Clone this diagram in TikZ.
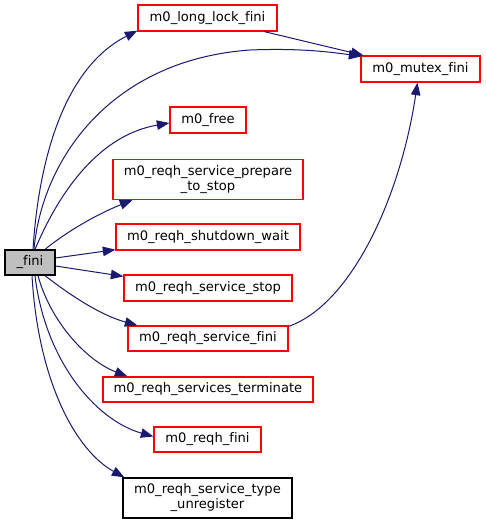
\documentclass[tikz,border=0pt]{standalone}
\usepackage{fontspec}
\setmainfont{DejaVu Sans}[Ligatures=NoCommon]
\usetikzlibrary{arrows.meta,calc}
\definecolor{edgeblue}{RGB}{25,25,112}
\definecolor{nodegray}{RGB}{191,191,191}
\begin{document}
\begin{tikzpicture}[x=1pt,y=-1pt,
  fn/.style={draw=red,line width=1.3pt,rectangle,inner sep=0pt,align=center,
    font=\fontsize{13.1}{15}\selectfont},
  fnblack/.style={fn,draw=black},
  fnmain/.style={fn,draw=black,fill=nodegray},
  ed/.style={draw=edgeblue,line width=1pt,-{Triangle[length=12.5pt,width=9.5pt]}}]
\useasboundingbox (0,0) rectangle (485,525);
% nodes
\node[fnmain,minimum width=50pt,minimum height=25pt] (fini) at (30,262.5) {\_fini};
\node[fn,minimum width=139pt,minimum height=26pt] (longlock) at (207.5,18) {m0\_long\_lock\_fini};
\node[fn,minimum width=119pt,minimum height=26pt] (mutex) at (420.5,69) {m0\_mutex\_fini};
\node[fn,minimum width=76pt,minimum height=26pt] (free) at (208,120) {m0\_free};
\node[fn,minimum width=190pt,minimum height=40pt] (prepare) at (208,179.5) {m0\_reqh\_service\_prepare\\\_to\_stop};
\node[fn,minimum width=184pt,minimum height=26pt] (shutdown) at (208,237) {m0\_reqh\_shutdown\_wait};
\node[fn,minimum width=168pt,minimum height=26pt] (stop) at (208,288) {m0\_reqh\_service\_stop};
\node[fn,minimum width=160pt,minimum height=25pt] (sfini) at (208,338.5) {m0\_reqh\_service\_fini};
\node[fn,minimum width=210pt,minimum height=25pt] (terminate) at (208,389.5) {m0\_reqh\_services\_terminate};
\node[fn,minimum width=107pt,minimum height=25pt] (reqhfini) at (207.5,439.5) {m0\_reqh\_fini};
\node[fnblack,minimum width=169pt,minimum height=40pt] (unreg) at (207.5,498) {m0\_reqh\_service\_type\\\_unregister};
% edges
\draw[ed] ($(fini.north)+(3,0)$) .. controls (38,170) and (60,70) .. ($(longlock.south west)+(0,-1)$);
\draw[ed] ($(fini.north)+(4,0)$) .. controls (42,160) and (110,60) .. (250,50) .. controls (300,48) and (330,52) .. ($(mutex.north west)+(1,1)$);
\draw[ed] (longlock) -- (mutex);
\draw[ed] ($(fini.north)+(5,0)$) .. controls (60,190) and (100,135) .. ($(free.west)+(0,3)$);
\draw[ed] ($(fini.north)+(15,0)$) .. controls (65,233) and (95,215) .. ($(prepare.south west)+(20,0)$);
\draw[ed] ($(fini.east)+(0,-4.5)$) -- ($(shutdown.south west)+(0,-1)$);
\draw[ed] ($(fini.east)+(0,3.5)$) -- ($(stop.north west)+(0,2)$);
\draw[ed] ($(fini.south)+(15,0)$) .. controls (70,295) and (100,315) .. ($(sfini.north west)+(10,0)$);
\draw[ed] ($(sfini.north east)+(0,1)$) .. controls (350,305) and (400,200) .. ($(mutex.south)+(-3,0)$);
\draw[ed] ($(fini.south)+(8,0)$) .. controls (50,320) and (85,360) .. ($(terminate.north west)+(25,0)$);
\draw[ed] ($(fini.south)+(5,0)$) .. controls (45,360) and (95,420) .. ($(reqhfini.west)+(0,-3)$);
\draw[ed] ($(fini.south)+(2,0)$) .. controls (38,380) and (75,450) .. ($(unreg.north west)+(2,0)$);
\end{tikzpicture}
\end{document}
